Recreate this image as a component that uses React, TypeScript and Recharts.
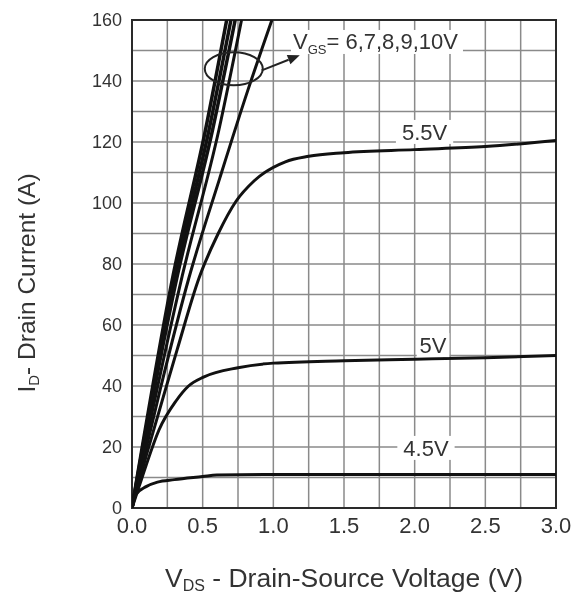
import React from 'react';
import {
  LineChart,
  Line,
  XAxis,
  YAxis,
  CartesianGrid,
  ReferenceArea,
  ReferenceDot,
} from 'recharts';

// ---- axis ticks ----
const vdsTicks = [0, 0.25, 0.5, 0.75, 1, 1.25, 1.5, 1.75, 2, 2.25, 2.5, 2.75, 3];
const idTicks = [0, 10, 20, 30, 40, 50, 60, 70, 80, 90, 100, 110, 120, 130, 140, 150, 160];
const vdsTickLabels = ['0.0', '0.5', '1.0', '1.5', '2.0', '2.5', '3.0'];
const idTickLabels = ['0', '20', '40', '60', '80', '100', '120', '140', '160'];

// ---- series (VDS in V, ID in A) ----
const vgs10V = [
  { vds: 0, id: 0 },
  { vds: 0.29, id: 76 },
  { vds: 0.52, id: 124 },
  { vds: 0.67, id: 160 },
];
const vgs9V = [
  { vds: 0, id: 0 },
  { vds: 0.305, id: 76 },
  { vds: 0.545, id: 124 },
  { vds: 0.7, id: 160 },
];
const vgs8V = [
  { vds: 0, id: 0 },
  { vds: 0.32, id: 76 },
  { vds: 0.57, id: 124 },
  { vds: 0.73, id: 160 },
];
const vgs7V = [
  { vds: 0, id: 0 },
  { vds: 0.355, id: 76 },
  { vds: 0.615, id: 124 },
  { vds: 0.775, id: 160 },
];
const vgs6V = [
  { vds: 0, id: 0 },
  { vds: 0.2, id: 39 },
  { vds: 0.4, id: 75 },
  { vds: 0.62, id: 108 },
  { vds: 0.82, id: 137 },
  { vds: 0.99, id: 160 },
];
const vgs55V = [
  { vds: 0, id: 0 },
  { vds: 0.1, id: 17 },
  { vds: 0.2, id: 33 },
  { vds: 0.32, id: 52 },
  { vds: 0.475, id: 75.5 },
  { vds: 0.61, id: 90 },
  { vds: 0.735, id: 100.5 },
  { vds: 0.865, id: 107.3 },
  { vds: 1.085, id: 113.5 },
  { vds: 1.25, id: 115.3 },
  { vds: 1.5, id: 116.5 },
  { vds: 2.0, id: 117.5 },
  { vds: 2.5, id: 118.5 },
  { vds: 3.0, id: 120.5 },
];
const vgs5V = [
  { vds: 0, id: 0 },
  { vds: 0.05, id: 7 },
  { vds: 0.1, id: 14 },
  { vds: 0.19, id: 25.5 },
  { vds: 0.31, id: 35 },
  { vds: 0.4, id: 40 },
  { vds: 0.51, id: 43 },
  { vds: 0.75, id: 46 },
  { vds: 1.0, id: 47.5 },
  { vds: 1.5, id: 48.3 },
  { vds: 2.0, id: 48.8 },
  { vds: 2.5, id: 49.3 },
  { vds: 3.0, id: 50 },
];
const vgs45V = [
  { vds: 0, id: 0 },
  { vds: 0.02, id: 4 },
  { vds: 0.1, id: 7 },
  { vds: 0.18, id: 8.5 },
  { vds: 0.3, id: 9.3 },
  { vds: 0.5, id: 10.3 },
  { vds: 0.6, id: 10.8 },
  { vds: 1.0, id: 11 },
  { vds: 2.0, id: 11 },
  { vds: 3.0, id: 11 },
];

// ---- annotation texts / anchors ----
const curveLabels = [
  { text: '5.5V', vds: 2.07, id: 123.3 },
  { text: '5V', vds: 2.13, id: 53.4 },
  { text: '4.5V', vds: 2.08, id: 19.7 },
];
const vgsGroupLabel = { main: 'V', sub: 'GS', rest: '= 6,7,8,9,10V', vds: 1.139, id: 152.8 };
const vgsGroupEllipse = { vds: 0.72, id: 144 };

const FONT = "'Liberation Sans', Arial, Helvetica, sans-serif";
const TEXT = '#333';

const CurveLabel = (props: any) => {
  const { cx, cy, text } = props;
  const fs = 22;
  const w = text.length * fs * 0.56 + 8;
  const h = 24;
  return (
    <g>
      <rect x={cx - w / 2} y={cy - h / 2} width={w} height={h} fill="#fff" />
      <text
        x={cx}
        y={cy + fs * 0.35}
        textAnchor="middle"
        fontSize={fs}
        fontFamily={FONT}
        fill={TEXT}
      >
        {text}
      </text>
    </g>
  );
};

const GroupLabel = (props: any) => {
  const { cx, cy } = props;
  return (
    <g>
      <rect x={cx - 2} y={cy - 12} width={172} height={24} fill="#fff" />
      <text x={cx} y={cy + 7.5} fontSize={22} fontFamily={FONT} fill={TEXT}>
        {vgsGroupLabel.main}
        <tspan fontSize={13} dy={5}>
          {vgsGroupLabel.sub}
        </tspan>
        <tspan fontSize={22} dy={-5}>
          {vgsGroupLabel.rest}
        </tspan>
      </text>
    </g>
  );
};

const GroupEllipse = (props: any) => {
  const { cx, cy } = props;
  const x1 = cx + 28;
  const y1 = cy + 1.5;
  const x2 = cx + 66;
  const y2 = cy - 13.5;
  const ang = Math.atan2(y2 - y1, x2 - x1);
  const L = 12;
  const W = 5;
  const bx = x2 - L * Math.cos(ang);
  const by = y2 - L * Math.sin(ang);
  const px = -Math.sin(ang) * W;
  const py = Math.cos(ang) * W;
  return (
    <g>
      <ellipse cx={cx} cy={cy} rx={29} ry={16.5} fill="none" stroke="#222" strokeWidth={2} />
      <line x1={x1} y1={y1} x2={bx} y2={by} stroke="#222" strokeWidth={2} />
      <polygon
        points={`${x2},${y2} ${bx + px},${by + py} ${bx - px},${by - py}`}
        fill="#222"
      />
    </g>
  );
};

const XTitle = (props: any) => {
  const vb = props.viewBox || {};
  const cx = vb.x + vb.width / 2;
  const y = vb.y + 79;
  return (
    <text x={cx} y={y} textAnchor="middle" fontSize={26.5} fontFamily={FONT} fill={TEXT}>
      V
      <tspan fontSize={16} dy={4}>
        DS
      </tspan>
      <tspan fontSize={26.5} dy={-4}>
        {' - Drain-Source Voltage (V)'}
      </tspan>
    </text>
  );
};

const YTitle = (props: any) => {
  const vb = props.viewBox || {};
  const x = 27;
  const y = vb.y + vb.height / 2 + 19;
  return (
    <text
      x={x}
      y={y}
      textAnchor="middle"
      fontSize={24.5}
      fontFamily={FONT}
      fill={TEXT}
      transform={`rotate(-90, ${x}, ${y})`}
    >
      I
      <tspan fontSize={15} dy={4}>
        D
      </tspan>
      <tspan fontSize={24.5} dy={-4}>
        {'- Drain Current (A)'}
      </tspan>
    </text>
  );
};

const fmtX = (v: number) => {
  const s = v.toFixed(1);
  return vdsTickLabels.includes(s) && Math.abs(v * 2 - Math.round(v * 2)) < 1e-6 ? s : '';
};
const fmtY = (v: number) => {
  const s = String(v);
  return idTickLabels.includes(s) ? s : '';
};

const series = [
  { data: vgs10V, w: 3.5 },
  { data: vgs9V, w: 3.5 },
  { data: vgs8V, w: 3.5 },
  { data: vgs7V, w: 3 },
  { data: vgs6V, w: 3 },
  { data: vgs55V, w: 3 },
  { data: vgs5V, w: 3 },
  { data: vgs45V, w: 3 },
];

export default function App() {
  return (
    <div style={{ position: 'fixed', left: 8, top: 8, width: 565, height: 588 }}>
      <LineChart
        width={565}
        height={588}
        margin={{ top: 12, right: 17, bottom: 48, left: 0 }}
        style={{ fontFamily: FONT }}
      >
        <CartesianGrid stroke="#8a8a8a" strokeWidth={1.5} />
        <XAxis
          type="number"
          dataKey="vds"
          domain={[0, 3]}
          ticks={vdsTicks}
          interval={0}
          tickFormatter={fmtX}
          tickLine={false}
          tickSize={0}
          tickMargin={9}
          axisLine={false}
          height={40}
          allowDataOverflow
          tick={{ fontSize: 22, fill: TEXT, fontFamily: FONT }}
          label={{ content: <XTitle /> } as any}
        />
        <YAxis
          type="number"
          dataKey="id"
          domain={[0, 160]}
          ticks={idTicks}
          interval={0}
          tickFormatter={fmtY}
          tickLine={false}
          tickSize={0}
          tickMargin={10}
          axisLine={false}
          width={124}
          allowDataOverflow
          tick={{ fontSize: 18, fill: TEXT, fontFamily: FONT }}
          label={{ content: <YTitle /> } as any}
        />
        <ReferenceArea
          x1={0}
          x2={3}
          y1={0}
          y2={160}
          fill="none"
          fillOpacity={0}
          stroke="#2a2a2a"
          strokeWidth={2}
        />
        {curveLabels.map((l) => (
          <ReferenceDot
            key={l.text}
            x={l.vds}
            y={l.id}
            r={1}
            shape={(p: any) => <CurveLabel {...p} text={l.text} />}
          />
        ))}
        <ReferenceDot
          x={vgsGroupLabel.vds}
          y={vgsGroupLabel.id}
          r={1}
          shape={(p: any) => <GroupLabel {...p} />}
        />
        {series.map((s, i) => (
          <Line
            key={i}
            data={s.data}
            dataKey="id"
            type="monotone"
            stroke="#111"
            strokeWidth={s.w}
            dot={false}
            activeDot={false}
            isAnimationActive={false}
          />
        ))}
        <ReferenceDot
          x={vgsGroupEllipse.vds}
          y={vgsGroupEllipse.id}
          r={1}
          shape={(p: any) => <GroupEllipse {...p} />}
        />
      </LineChart>
    </div>
  );
}
